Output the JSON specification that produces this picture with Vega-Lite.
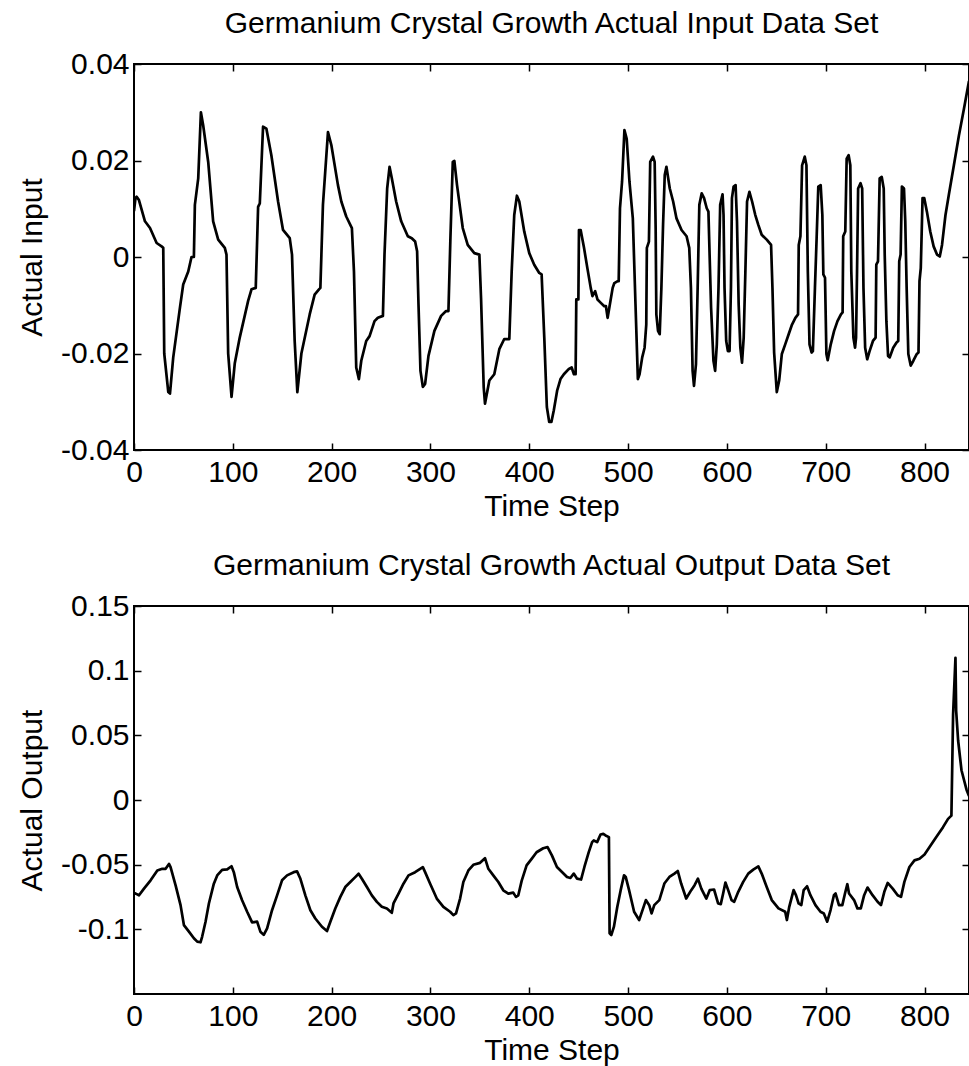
{
  "$schema": "https://vega.github.io/schema/vega-lite/v6.json",
  "background": "white",
  "padding": {"left": 16, "top": 8, "right": 0, "bottom": 20},
  "bounds": "flush",
  "spacing": 156,
  "config": {
    "font": "Liberation Sans",
    "view": {"stroke": "black", "strokeWidth": 2},
    "axis": {
      "domain": false, "grid": false,
      "tickColor": "black", "tickWidth": 1.5, "tickSize": -7,
      "labelFontSize": 30, "labelColor": "black",
      "labelFlush": false, "labelOverlap": false,
      "titleFontSize": 30, "titleFontWeight": "normal", "titleColor": "black"
    },
    "axisX": {"labelPadding": 14, "titlePadding": 4},
    "axisY": {"labelPadding": 12, "titlePadding": 13},
    "title": {"fontSize": 30, "fontWeight": "normal", "color": "black", "offset": 10, "anchor": "middle"}
  },
  "datasets": {
    "inp": [
      {"t":0,"v":0.0095},{"t":1.5,"v":0.0122},{"t":2.7,"v":0.0125},{"t":5,"v":0.0118},{"t":11.1,"v":0.0074},{"t":16.2,"v":0.006},{"t":22.9,"v":0.0029},{"t":27.9,"v":0.0022},{"t":29.6,"v":0.0019},{"t":30.6,"v":-0.02},{"t":34.7,"v":-0.028},{"t":36.4,"v":-0.0283},{"t":39.7,"v":-0.0208},{"t":46.5,"v":-0.0105},{"t":49.8,"v":-0.0057},{"t":54.9,"v":-0.003},{"t":58.2,"v":0},{"t":60.6,"v":0},{"t":61.6,"v":0.0108},{"t":65,"v":0.0163},{"t":67.7,"v":0.03},{"t":70,"v":0.0273},{"t":75.1,"v":0.0197},{"t":80.1,"v":0.0074},{"t":85.2,"v":0.0036},{"t":91.9,"v":0.0019},{"t":93.6,"v":0.0005},{"t":95.3,"v":-0.02},{"t":98.7,"v":-0.029},{"t":102,"v":-0.022},{"t":107,"v":-0.0167},{"t":115.5,"v":-0.0091},{"t":118.9,"v":-0.0067},{"t":123.2,"v":-0.0064},{"t":125.6,"v":0.0104},{"t":127.3,"v":0.0111},{"t":130.6,"v":0.027},{"t":134,"v":0.0266},{"t":139,"v":0.0211},{"t":145.8,"v":0.0115},{"t":150.8,"v":0.0056},{"t":157.6,"v":0.0039},{"t":159.9,"v":0.0005},{"t":162.6,"v":-0.0174},{"t":165.3,"v":-0.028},{"t":169.4,"v":-0.02},{"t":177.8,"v":-0.0119},{"t":182.8,"v":-0.0078},{"t":187.2,"v":-0.0067},{"t":188.6,"v":-0.0064},{"t":191.2,"v":0.0108},{"t":196.3,"v":0.0259},{"t":199.7,"v":0.0232},{"t":206.4,"v":0.0149},{"t":209.8,"v":0.0115},{"t":214.8,"v":0.0084},{"t":220.5,"v":0.006},{"t":222.6,"v":-0.003},{"t":224.9,"v":-0.0229},{"t":227.6,"v":-0.0253},{"t":230,"v":-0.0215},{"t":235,"v":-0.0174},{"t":238.4,"v":-0.0164},{"t":243.4,"v":-0.0133},{"t":246.8,"v":-0.0126},{"t":251.9,"v":-0.0122},{"t":253.5,"v":0.0005},{"t":256.2,"v":0.0142},{"t":258.6,"v":0.0187},{"t":260.9,"v":0.0163},{"t":265.3,"v":0.0115},{"t":270.4,"v":0.0074},{"t":277.1,"v":0.0043},{"t":281.1,"v":0.0039},{"t":284.5,"v":0.0032},{"t":286.5,"v":0.0012},{"t":287.9,"v":-0.0098},{"t":289.9,"v":-0.0236},{"t":292.3,"v":-0.0269},{"t":294.6,"v":-0.0263},{"t":298,"v":-0.0205},{"t":304,"v":-0.0153},{"t":310.8,"v":-0.0122},{"t":315.8,"v":-0.0112},{"t":318.2,"v":-0.0112},{"t":320.2,"v":0.0039},{"t":322.6,"v":0.0197},{"t":324.2,"v":0.0199},{"t":326.9,"v":0.0149},{"t":332.7,"v":0.006},{"t":337.7,"v":0.0025},{"t":344.4,"v":0.0008},{"t":349.5,"v":0.0005},{"t":351.2,"v":-0.0085},{"t":353.9,"v":-0.027},{"t":355.2,"v":-0.0304},{"t":359.6,"v":-0.0256},{"t":364.6,"v":-0.0243},{"t":369.7,"v":-0.0191},{"t":374.7,"v":-0.017},{"t":379.8,"v":-0.017},{"t":382.2,"v":-0.003},{"t":384.8,"v":0.0087},{"t":387.5,"v":0.0127},{"t":389.9,"v":0.0115},{"t":394.9,"v":0.0053},{"t":400,"v":0.0008},{"t":405,"v":-0.0016},{"t":410.1,"v":-0.0033},{"t":412.5,"v":-0.0036},{"t":415.2,"v":-0.0167},{"t":417.8,"v":-0.0311},{"t":420.2,"v":-0.0342},{"t":422.4,"v":-0.0342},{"t":424.8,"v":-0.0318},{"t":428.2,"v":-0.0277},{"t":431.6,"v":-0.0253},{"t":435,"v":-0.0243},{"t":440.1,"v":-0.0232},{"t":442.9,"v":-0.0229},{"t":445.2,"v":-0.0243},{"t":446.9,"v":-0.0243},{"t":447.6,"v":-0.0088},{"t":449.7,"v":-0.0088},{"t":450.3,"v":0.0056},{"t":452,"v":0.0056},{"t":455.4,"v":0.0019},{"t":458.8,"v":-0.0023},{"t":462.2,"v":-0.0064},{"t":463.9,"v":-0.0081},{"t":466.7,"v":-0.0071},{"t":469,"v":-0.0088},{"t":472.4,"v":-0.0095},{"t":475.9,"v":-0.0102},{"t":477.6,"v":-0.0102},{"t":479.3,"v":-0.0126},{"t":481,"v":-0.0105},{"t":484.4,"v":-0.0064},{"t":486.1,"v":-0.0054},{"t":489.5,"v":-0.005},{"t":490.5,"v":-0.005},{"t":491.8,"v":0.0101},{"t":493.9,"v":0.0156},{"t":496.3,"v":0.0263},{"t":498.6,"v":0.0245},{"t":501.4,"v":0.0156},{"t":504.8,"v":0.008},{"t":507.5,"v":-0.0098},{"t":509.9,"v":-0.0253},{"t":511.6,"v":-0.0243},{"t":514.3,"v":-0.0208},{"t":516.7,"v":-0.0188},{"t":518.4,"v":-0.014},{"t":519,"v":0.0019},{"t":521.1,"v":0.0032},{"t":522.4,"v":0.0197},{"t":525.2,"v":0.0208},{"t":526.9,"v":0.0197},{"t":527.9,"v":0.006},{"t":528.6,"v":-0.0119},{"t":530.3,"v":-0.0153},{"t":532,"v":-0.016},{"t":533.7,"v":-0.0064},{"t":535.4,"v":0.0067},{"t":537.1,"v":0.017},{"t":538.8,"v":0.0187},{"t":542.2,"v":0.0142},{"t":545.6,"v":0.0115},{"t":549,"v":0.008},{"t":554.1,"v":0.0056},{"t":559.2,"v":0.0043},{"t":561.9,"v":0.0019},{"t":563.6,"v":-0.0064},{"t":565.3,"v":-0.0236},{"t":566.7,"v":-0.0267},{"t":568.7,"v":-0.0222},{"t":570.4,"v":-0.0064},{"t":572.1,"v":0.0108},{"t":574.5,"v":0.0132},{"t":576.9,"v":0.0122},{"t":579.6,"v":0.0101},{"t":581.3,"v":0.0094},{"t":582.3,"v":0.0019},{"t":584,"v":-0.0105},{"t":586.4,"v":-0.0215},{"t":588.1,"v":-0.0236},{"t":589.8,"v":-0.0181},{"t":591.5,"v":-0.0064},{"t":593.2,"v":0.0108},{"t":595.6,"v":0.013},{"t":596.6,"v":0.0087},{"t":597.6,"v":-0.0064},{"t":599.3,"v":-0.0174},{"t":601,"v":-0.0195},{"t":602.7,"v":-0.0195},{"t":604.1,"v":-0.0064},{"t":605.1,"v":0.0122},{"t":606.8,"v":0.0146},{"t":608.8,"v":0.0149},{"t":610.2,"v":0.0074},{"t":611.9,"v":-0.0098},{"t":613.6,"v":-0.0188},{"t":615.3,"v":-0.0219},{"t":617,"v":-0.0167},{"t":618.7,"v":-0.003},{"t":620.4,"v":0.0115},{"t":622.8,"v":0.0135},{"t":625.5,"v":0.0115},{"t":628.6,"v":0.0088},{"t":631.7,"v":0.0067},{"t":635.2,"v":0.0046},{"t":640.3,"v":0.0036},{"t":644.7,"v":0.0025},{"t":646.1,"v":-0.0064},{"t":647.8,"v":-0.0198},{"t":650.5,"v":-0.028},{"t":652.9,"v":-0.0256},{"t":655.6,"v":-0.0201},{"t":659,"v":-0.0181},{"t":662.5,"v":-0.016},{"t":665.9,"v":-0.014},{"t":669.3,"v":-0.0126},{"t":672,"v":-0.0119},{"t":672.7,"v":0.0025},{"t":674.4,"v":0.0043},{"t":676.1,"v":0.019},{"t":678.8,"v":0.0208},{"t":680.5,"v":0.019},{"t":681.9,"v":-0.003},{"t":683.6,"v":-0.0181},{"t":685.7,"v":-0.0198},{"t":687,"v":-0.0195},{"t":689.1,"v":-0.0064},{"t":690.8,"v":0.0039},{"t":692.5,"v":0.0146},{"t":694.9,"v":0.0149},{"t":696.6,"v":0.0087},{"t":697.6,"v":-0.0036},{"t":699.3,"v":-0.0043},{"t":700.7,"v":-0.0201},{"t":702,"v":-0.0214},{"t":705.1,"v":-0.0181},{"t":708.5,"v":-0.0153},{"t":711.9,"v":-0.0133},{"t":715.4,"v":-0.0119},{"t":717.1,"v":-0.0115},{"t":717.7,"v":0.0043},{"t":719.8,"v":0.0053},{"t":721.2,"v":0.0204},{"t":723.2,"v":0.0211},{"t":724.9,"v":0.019},{"t":725.9,"v":-0.003},{"t":728,"v":-0.0167},{"t":729.7,"v":-0.0188},{"t":730.7,"v":-0.0167},{"t":731.7,"v":-0.003},{"t":732.8,"v":0.0142},{"t":735.2,"v":0.0153},{"t":736.9,"v":0.0142},{"t":738.2,"v":-0.0064},{"t":739.9,"v":-0.0188},{"t":742,"v":-0.0212},{"t":744.4,"v":-0.0195},{"t":747.8,"v":-0.0174},{"t":750.5,"v":-0.0167},{"t":751.2,"v":-0.0016},{"t":752.9,"v":-0.0009},{"t":754.6,"v":0.0163},{"t":756.7,"v":0.0166},{"t":758.7,"v":0.0142},{"t":759.7,"v":0.0005},{"t":761.4,"v":-0.0133},{"t":763.1,"v":-0.0205},{"t":764.8,"v":-0.0208},{"t":768.3,"v":-0.0188},{"t":771.7,"v":-0.0177},{"t":773.4,"v":-0.0174},{"t":774.4,"v":-0.0009},{"t":775.8,"v":0.0005},{"t":777.1,"v":0.0146},{"t":779.2,"v":0.0142},{"t":780.5,"v":0.0074},{"t":781.9,"v":-0.0064},{"t":783.6,"v":-0.0201},{"t":786,"v":-0.0225},{"t":788.7,"v":-0.0215},{"t":792.2,"v":-0.0201},{"t":793.9,"v":-0.0198},{"t":794.9,"v":-0.005},{"t":796.2,"v":-0.0023},{"t":798,"v":0.0122},{"t":799.7,"v":0.0122},{"t":802.4,"v":0.0094},{"t":805.8,"v":0.0053},{"t":809.2,"v":0.0022},{"t":812.6,"v":0.0005},{"t":815.4,"v":0.0001},{"t":817.7,"v":0.0025},{"t":821.2,"v":0.0087},{"t":824.6,"v":0.0129},{"t":829.7,"v":0.019},{"t":834.8,"v":0.0252},{"t":839.9,"v":0.0307},{"t":845,"v":0.0365}
    ],
    "out": [
      {"t":0,"v":-0.072},{"t":1.7,"v":-0.0724},{"t":5.1,"v":-0.0737},{"t":10.1,"v":-0.0685},{"t":16.8,"v":-0.0621},{"t":23.6,"v":-0.0545},{"t":28.6,"v":-0.0532},{"t":32,"v":-0.0532},{"t":35.4,"v":-0.0494},{"t":37,"v":-0.0519},{"t":42.1,"v":-0.066},{"t":47.1,"v":-0.0813},{"t":50.5,"v":-0.0967},{"t":55.6,"v":-0.1018},{"t":60.6,"v":-0.1069},{"t":64,"v":-0.1095},{"t":67.3,"v":-0.11},{"t":69,"v":-0.1056},{"t":72.4,"v":-0.0941},{"t":75.8,"v":-0.08},{"t":80.8,"v":-0.0647},{"t":84.2,"v":-0.0583},{"t":89.2,"v":-0.054},{"t":94.3,"v":-0.0537},{"t":98.7,"v":-0.0512},{"t":101,"v":-0.0558},{"t":104.4,"v":-0.0673},{"t":109.4,"v":-0.0775},{"t":114.5,"v":-0.0864},{"t":119.5,"v":-0.0946},{"t":124.6,"v":-0.0941},{"t":127.9,"v":-0.1018},{"t":131.3,"v":-0.1043},{"t":134.7,"v":-0.0992},{"t":139.7,"v":-0.0852},{"t":144.8,"v":-0.0737},{"t":149.8,"v":-0.0621},{"t":154.9,"v":-0.0583},{"t":161.6,"v":-0.0558},{"t":165,"v":-0.0552},{"t":168.4,"v":-0.0609},{"t":173.4,"v":-0.0737},{"t":178.5,"v":-0.0852},{"t":183.5,"v":-0.0916},{"t":190.2,"v":-0.098},{"t":195.3,"v":-0.1013},{"t":198.7,"v":-0.0941},{"t":203.7,"v":-0.0839},{"t":208.8,"v":-0.0749},{"t":213.8,"v":-0.0673},{"t":218.9,"v":-0.0634},{"t":223.9,"v":-0.0596},{"t":227.3,"v":-0.057},{"t":230.6,"v":-0.0609},{"t":235.7,"v":-0.0673},{"t":240.7,"v":-0.0737},{"t":245.8,"v":-0.0788},{"t":250.8,"v":-0.0826},{"t":255.9,"v":-0.0839},{"t":260.9,"v":-0.0872},{"t":262.6,"v":-0.08},{"t":267.7,"v":-0.0724},{"t":272.7,"v":-0.0647},{"t":277.8,"v":-0.0583},{"t":284.5,"v":-0.0558},{"t":289.6,"v":-0.0532},{"t":292.3,"v":-0.0519},{"t":294.6,"v":-0.0558},{"t":299.7,"v":-0.0647},{"t":306.4,"v":-0.0762},{"t":313.1,"v":-0.0826},{"t":319.9,"v":-0.0864},{"t":323.2,"v":-0.089},{"t":325.9,"v":-0.0877},{"t":330,"v":-0.0762},{"t":333.3,"v":-0.0634},{"t":338.4,"v":-0.0545},{"t":343.4,"v":-0.0501},{"t":350.2,"v":-0.0486},{"t":355.2,"v":-0.045},{"t":358.6,"v":-0.0532},{"t":363.6,"v":-0.0583},{"t":368.7,"v":-0.0634},{"t":373.7,"v":-0.0698},{"t":378.8,"v":-0.0724},{"t":383.8,"v":-0.0716},{"t":386.5,"v":-0.0749},{"t":388.9,"v":-0.0737},{"t":392.3,"v":-0.0625},{"t":397.3,"v":-0.0506},{"t":402.4,"v":-0.0455},{"t":407.4,"v":-0.0404},{"t":414.1,"v":-0.0373},{"t":418.5,"v":-0.0364},{"t":422.9,"v":-0.0428},{"t":428,"v":-0.0518},{"t":433.1,"v":-0.0556},{"t":438.2,"v":-0.0595},{"t":441.6,"v":-0.0603},{"t":445,"v":-0.0569},{"t":448.4,"v":-0.0608},{"t":452.4,"v":-0.0615},{"t":455.8,"v":-0.0518},{"t":460.2,"v":-0.0403},{"t":463.6,"v":-0.0326},{"t":465.3,"v":-0.0313},{"t":468.7,"v":-0.0326},{"t":472.1,"v":-0.0267},{"t":474.9,"v":-0.0262},{"t":477.2,"v":-0.0274},{"t":480.6,"v":-0.0287},{"t":481.3,"v":-0.1031},{"t":483,"v":-0.1044},{"t":485.7,"v":-0.0979},{"t":489.1,"v":-0.0826},{"t":492.5,"v":-0.0697},{"t":495.9,"v":-0.0582},{"t":497.6,"v":-0.0595},{"t":501,"v":-0.0697},{"t":506.1,"v":-0.0864},{"t":511.2,"v":-0.0928},{"t":514.6,"v":-0.0851},{"t":518,"v":-0.0774},{"t":521.4,"v":-0.0813},{"t":523.8,"v":-0.0877},{"t":526.5,"v":-0.0813},{"t":531.6,"v":-0.0774},{"t":536.7,"v":-0.0646},{"t":541.8,"v":-0.0595},{"t":546.9,"v":-0.0569},{"t":550.3,"v":-0.0549},{"t":553.7,"v":-0.0646},{"t":558.8,"v":-0.0762},{"t":563.9,"v":-0.0697},{"t":567.3,"v":-0.0659},{"t":570.7,"v":-0.0608},{"t":574.1,"v":-0.0685},{"t":579.2,"v":-0.0762},{"t":582.6,"v":-0.0697},{"t":587,"v":-0.0692},{"t":591.1,"v":-0.08},{"t":593.8,"v":-0.0805},{"t":596.2,"v":-0.0723},{"t":598.5,"v":-0.0638},{"t":601.3,"v":-0.0697},{"t":604.7,"v":-0.0774},{"t":607.4,"v":-0.0787},{"t":611.5,"v":-0.071},{"t":616.5,"v":-0.0633},{"t":621.6,"v":-0.0569},{"t":626.7,"v":-0.0538},{"t":631.8,"v":-0.0513},{"t":635.2,"v":-0.0569},{"t":640.3,"v":-0.0672},{"t":645.4,"v":-0.0774},{"t":652.2,"v":-0.0838},{"t":659,"v":-0.0864},{"t":660.7,"v":-0.0928},{"t":663.1,"v":-0.0826},{"t":667.5,"v":-0.0697},{"t":669.9,"v":-0.0736},{"t":672.6,"v":-0.08},{"t":675.3,"v":-0.0813},{"t":677.7,"v":-0.0697},{"t":681.1,"v":-0.0667},{"t":684.5,"v":-0.0736},{"t":689.6,"v":-0.0813},{"t":694.7,"v":-0.0864},{"t":698.1,"v":-0.0877},{"t":701.5,"v":-0.0941},{"t":704.9,"v":-0.0851},{"t":708.3,"v":-0.0736},{"t":710,"v":-0.0723},{"t":713.4,"v":-0.0813},{"t":716.8,"v":-0.0813},{"t":719.5,"v":-0.0723},{"t":721.9,"v":-0.0651},{"t":723.6,"v":-0.0723},{"t":728.7,"v":-0.0774},{"t":732.1,"v":-0.0838},{"t":735.5,"v":-0.0838},{"t":738.9,"v":-0.0736},{"t":742.3,"v":-0.0677},{"t":747.4,"v":-0.0736},{"t":752.5,"v":-0.0787},{"t":755.9,"v":-0.0813},{"t":759.3,"v":-0.071},{"t":762.7,"v":-0.0641},{"t":767.8,"v":-0.0685},{"t":772.8,"v":-0.0736},{"t":776.2,"v":-0.0749},{"t":779.6,"v":-0.0633},{"t":784.7,"v":-0.0518},{"t":789.8,"v":-0.0467},{"t":794.9,"v":-0.0454},{"t":800,"v":-0.0421},{"t":805.1,"v":-0.0364},{"t":811.9,"v":-0.0287},{"t":818.7,"v":-0.021},{"t":823.8,"v":-0.0146},{"t":827.2,"v":-0.0121},{"t":828.9,"v":0.066},{"t":831.3,"v":0.11},{"t":832,"v":0.069},{"t":834,"v":0.046},{"t":837.4,"v":0.023},{"t":842.5,"v":0.008},{"t":845,"v":0.003}
    ]
  },
  "vconcat": [
    {
      "width": 835, "height": 386,
      "title": {"text": "Germanium Crystal Growth Actual Input Data Set"},
      "data": {"name": "inp"},
      "layer": [
        {
          "mark": {"type": "line", "color": "black", "strokeWidth": 2.7, "strokeJoin": "round", "clip": true},
          "encoding": {
            "x": {"field": "t", "type": "quantitative", "scale": {"domain": [0, 845], "nice": false, "zero": false},
                  "axis": {"title": "Time Step", "values": [0,100,200,300,400,500,600,700,800], "format": "d"}},
            "y": {"field": "v", "type": "quantitative", "scale": {"domain": [-0.04, 0.04], "nice": false},
                  "axis": {"title": "Actual Input", "values": [-0.04,-0.02,0,0.02,0.04], "format": ".2~f", "labelExpr": "replace(datum.label, '\u2212', '-')"}}
          }
        },
        {
          "mark": {"type": "line", "strokeOpacity": 0},
          "encoding": {
            "x": {"field": "t", "type": "quantitative", "axis": {"orient": "top", "labels": false, "title": null, "values": [0,100,200,300,400,500,600,700,800]}},
            "y": {"field": "v", "type": "quantitative", "axis": {"orient": "right", "labels": false, "title": null, "values": [-0.04,-0.02,0,0.02,0.04]}}
          }
        }
      ],
      "resolve": {"axis": {"x": "independent", "y": "independent"}}
    },
    {
      "width": 835, "height": 388,
      "title": {"text": "Germanium Crystal Growth Actual Output Data Set"},
      "data": {"name": "out"},
      "layer": [
        {
          "mark": {"type": "line", "color": "black", "strokeWidth": 2.7, "strokeJoin": "round", "clip": true},
          "encoding": {
            "x": {"field": "t", "type": "quantitative", "scale": {"domain": [0, 845], "nice": false, "zero": false},
                  "axis": {"title": "Time Step", "values": [0,100,200,300,400,500,600,700,800], "format": "d"}},
            "y": {"field": "v", "type": "quantitative", "scale": {"domain": [-0.15, 0.15], "nice": false},
                  "axis": {"title": "Actual Output", "values": [-0.1,-0.05,0,0.05,0.1,0.15], "format": ".2~f", "labelExpr": "replace(datum.label, '\u2212', '-')"}}
          }
        },
        {
          "mark": {"type": "line", "strokeOpacity": 0},
          "encoding": {
            "x": {"field": "t", "type": "quantitative", "axis": {"orient": "top", "labels": false, "title": null, "values": [0,100,200,300,400,500,600,700,800]}},
            "y": {"field": "v", "type": "quantitative", "axis": {"orient": "right", "labels": false, "title": null, "values": [-0.1,-0.05,0,0.05,0.1]}}
          }
        }
      ],
      "resolve": {"axis": {"x": "independent", "y": "independent"}}
    }
  ]
}
